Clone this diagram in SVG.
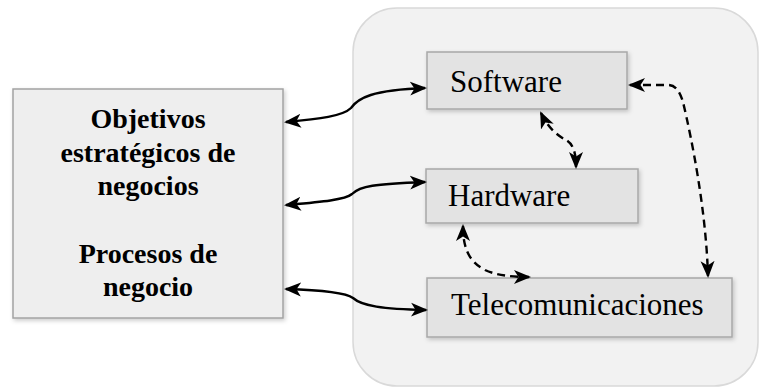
<svg xmlns="http://www.w3.org/2000/svg" width="759" height="388" viewBox="0 0 759 388">
  <style>
    .panel { fill: #f2f2f2; stroke: #d9d9d9; stroke-width: 1.5; }
    .bigbox { fill: #eeeeee; stroke: #a3a3a3; stroke-width: 1.5; filter: url(#shadow); }
    .box { fill: #e3e3e3; stroke: #a8a8a8; stroke-width: 1.5; filter: url(#shadow); }
    .bold { font-family: "Liberation Serif", "Times New Roman", serif; font-weight: bold; font-size: 28px; fill: #000; text-anchor: middle; }
    .label { font-family: "Liberation Serif", "Times New Roman", serif; font-size: 31px; fill: #000; }
    .link { fill: none; stroke: #000; stroke-width: 2.4; marker-start: url(#head); marker-end: url(#head); }
    .dash { stroke-dasharray: 8 5; }
  </style>
  <defs>
    <filter id="shadow" x="-10%" y="-10%" width="130%" height="130%">
      <feDropShadow dx="1.5" dy="2" stdDeviation="2" flood-color="#000" flood-opacity="0.2"/>
    </filter>
    <!-- concave-backed arrowhead shared by every connector end -->
    <marker id="head" markerUnits="userSpaceOnUse" markerWidth="18" markerHeight="16" refX="15" refY="8" orient="auto-start-reverse" viewBox="0 0 18 16">
      <path d="M0,1 L17,8 L0,15 L4.5,8 Z" fill="#000"/>
    </marker>
  </defs>

  <!-- information-systems panel -->
  <rect class="panel" x="353" y="8" width="405" height="378" rx="44" ry="44"/>

  <g id="objetivos">
    <rect class="bigbox" x="13" y="89" width="270" height="229"/>
    <text class="bold" x="148" y="128">Objetivos</text>
    <text class="bold" x="148" y="162">estratégicos de</text>
    <text class="bold" x="148" y="195">negocios</text>
    <text class="bold" x="148" y="263">Procesos de</text>
    <text class="bold" x="148" y="296">negocio</text>
  </g>

  <g id="software">
    <rect class="box" x="427" y="52" width="200" height="57"/>
    <text class="label" x="450" y="92">Software</text>
  </g>

  <g id="hardware">
    <rect class="box" x="426" y="169" width="212" height="54"/>
    <text class="label" x="448" y="206">Hardware</text>
  </g>

  <g id="telecomunicaciones">
    <rect class="box" x="427" y="278" width="305" height="59"/>
    <text class="label" x="451" y="315">Telecomunicaciones</text>
  </g>

  <g id="connectors">
    <path class="link" d="M286,122 C320,119 343,116 351,108 C358,98 372,90 425,88"/>
    <path class="link" d="M286,205 C320,202 345,200 352,194 C360,186 374,184 425,182"/>
    <path class="link" d="M286,289 C320,290 345,292 353,298 C362,306 382,309 426,310"/>
    <path class="link dash" d="M541,113 C548,128 558,136 566,140 C573,144 576,152 576,167"/>
    <path class="link dash" d="M630,85 L668,85 C676,85 680,92 683,102 C692,140 706,210 708,276"/>
    <path class="link dash" d="M463,226 C463,250 470,262 485,270 C498,276 515,277 529,277"/>
  </g>
</svg>
